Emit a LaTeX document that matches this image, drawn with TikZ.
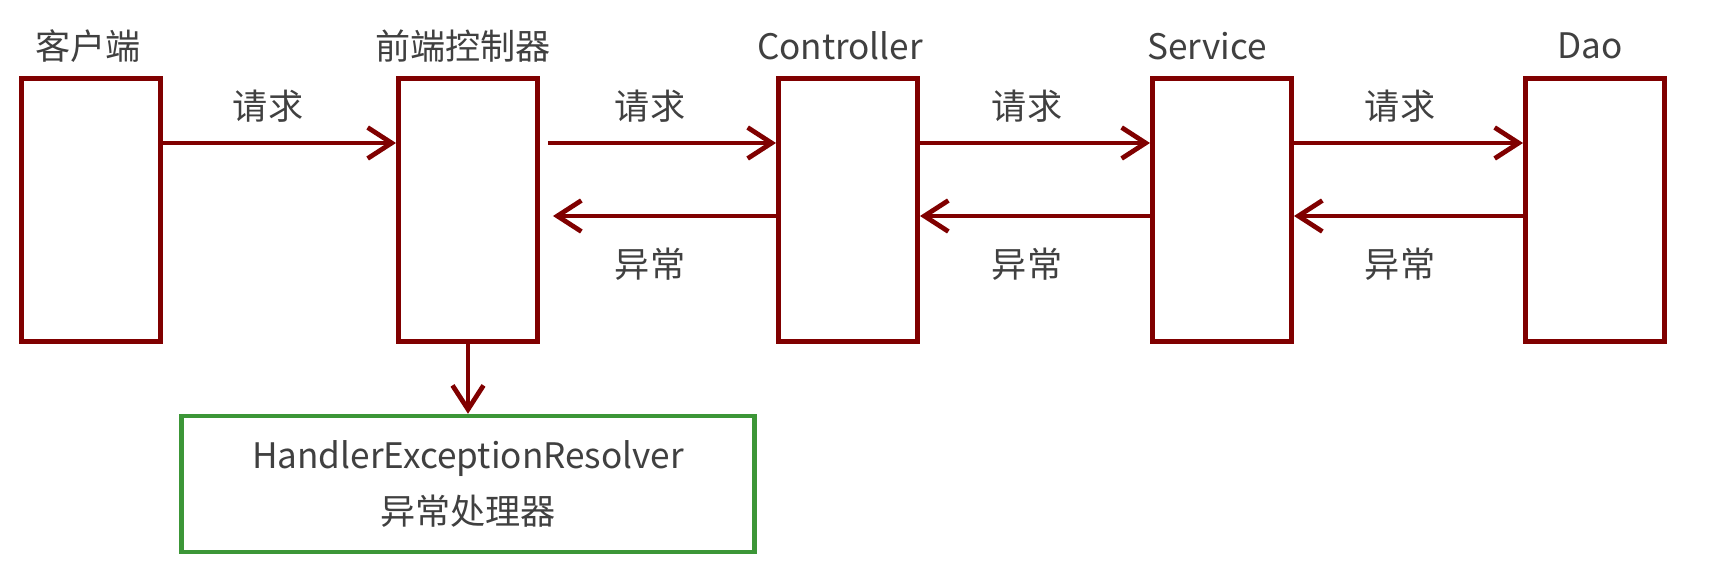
\documentclass[tikz,border=0pt]{standalone}
\usepackage{fontspec}
\newfontfamily\cjk{Noto Sans CJK SC}
\usetikzlibrary{arrows.meta}
\definecolor{darkred}{RGB}{128,0,0}
\definecolor{boxgreen}{RGB}{60,150,55}
\definecolor{txtgray}{RGB}{64,64,64}
\tikzset{
	layer/.style={draw=darkred, line width=0.1cm, minimum width=2.78cm, minimum height=5.26cm, inner sep=0pt},
	title/.style={font=\cjk\fontsize{20}{24}\selectfont, text=txtgray, inner sep=0pt},
	flow/.style={draw=darkred, line width=0.095cm, -{Straight Barb[length=0.48cm,width=0.62cm]}},
	handlerbox/.style={draw=boxgreen, line width=0.09cm, minimum width=11.46cm, minimum height=2.72cm, align=center, font=\cjk\fontsize{20}{32}\selectfont, text=txtgray}
}
\begin{document}
\begin{tikzpicture}[x=0.02cm,y=-0.02cm]
		\useasboundingbox (0,0) rectangle (1728,574);
		% layers
		\node [layer] (client) at (91,210) {};
		\node [layer] (fc) at (468,210) {};
		\node [layer] (ctrl) at (848,210) {};
		\node [layer] (service) at (1222,210) {};
		\node [layer] (dao) at (1595,210) {};
		\node [title] (clientname) at (88,46) {客户端};
		\node [title] (fcname) at (463,46) {前端控制器};
		\node [title] (ctrlname) at (840,46) {Controller};
		\node [title] (servicename) at (1207,46) {Service};
		\node [title] (daoname) at (1590,46) {Dao};
		\coordinate (req) at (0,143);
		\coordinate (exc) at (0,216);
		% requests
		\draw [flow] (client.east |- req) -- (fc.west |- req);
		\draw [flow, shorten <=0.16cm] (fc.east |- req) -- (ctrl.west |- req);
		\draw [flow] (ctrl.east |- req) -- (service.west |- req);
		\draw [flow] (service.east |- req) -- (dao.west |- req);
		\node [title] (req1) at (268,106) {请求};
		\node [title] (req2) at (650,106) {请求};
		\node [title] (req3) at (1027,106) {请求};
		\node [title] (req4) at (1400,106) {请求};
		% exceptions
		\draw [flow, shorten >=0.26cm] (ctrl.west |- exc) -- (fc.east |- exc);
		\draw [flow] (service.west |- exc) -- (ctrl.east |- exc);
		\draw [flow] (dao.west |- exc) -- (service.east |- exc);
		\node [title] (exc2) at (650,264) {异常};
		\node [title] (exc3) at (1027,264) {异常};
		\node [title] (exc4) at (1400,264) {异常};
		% handler
		\node [handlerbox] (handler) at (468,484) {HandlerExceptionResolver\\异常处理器};
		\draw [flow] (fc.south) -- (handler.north);
	\end{tikzpicture}
\end{document}
